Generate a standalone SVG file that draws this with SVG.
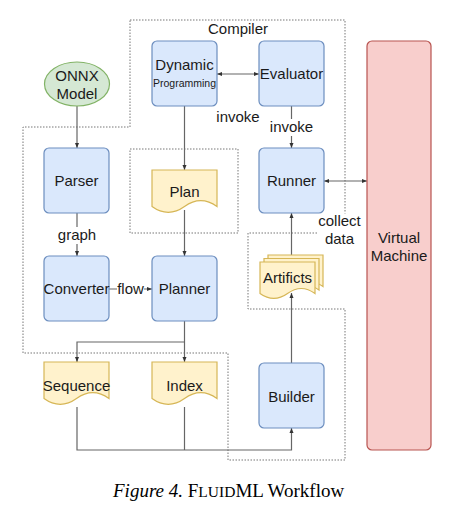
<svg xmlns="http://www.w3.org/2000/svg" width="470" height="528" viewBox="0 0 470 528">
<defs>
<style>
text{font-family:"Liberation Sans",Arial,sans-serif;font-size:15px;fill:#1a1a1a;text-anchor:middle}
.blue{fill:#dae8fc;stroke:#6c8ebf;stroke-width:1.2}
.yel{fill:#fff2cc;stroke:#d6b656;stroke-width:1.2}
.grn{fill:#d5e8d4;stroke:#82b366;stroke-width:1.2}
.red{fill:#f8cecc;stroke:#b85450;stroke-width:1.2}
.dot{fill:none;stroke:#777;stroke-width:1;stroke-dasharray:1.5 1.5}
.edge{fill:none;stroke:#666;stroke-width:1.2}
.bg{fill:#fff;stroke:none}
.cap{font-family:"Liberation Serif","Times New Roman",serif;font-size:19px;fill:#000;text-anchor:start}
</style>
<marker id="arr" viewBox="0 0 10 10" refX="10" refY="5" markerWidth="5" markerHeight="5" markerUnits="userSpaceOnUse" orient="auto-start-reverse">
<path d="M0,1 L10,5 L0,9 z" fill="#333"/>
</marker>
</defs>
<rect width="470" height="528" fill="#fff"/>

<g id="compiler-region">
<path class="dot" d="M130,20 H345 V233 H248 V309 H345 V460 H228 V353 H23 V127 H130 Z"/>
<rect class="dot" x="130" y="149" width="108" height="84"/>
<text x="238" y="33.5">Compiler</text>
</g>

<g id="connectors">
<line class="edge" x1="77" y1="106" x2="77" y2="148" marker-end="url(#arr)"/>
<line class="edge" x1="77" y1="213" x2="77" y2="256" marker-end="url(#arr)"/>
<line class="edge" x1="109" y1="289" x2="152" y2="289" marker-end="url(#arr)"/>
<line class="edge" x1="184.5" y1="106" x2="184.5" y2="170" marker-end="url(#arr)"/>
<line class="edge" x1="184.5" y1="210" x2="184.5" y2="256" marker-end="url(#arr)"/>
<line class="edge" x1="217" y1="74" x2="259" y2="74" marker-start="url(#arr)" marker-end="url(#arr)"/>
<line class="edge" x1="291.5" y1="106" x2="291.5" y2="148" marker-end="url(#arr)"/>
<line class="edge" x1="324" y1="181" x2="367" y2="181" marker-start="url(#arr)" marker-end="url(#arr)"/>
<line class="edge" x1="291.5" y1="255" x2="291.5" y2="213" marker-end="url(#arr)"/>
<line class="edge" x1="291.5" y1="363" x2="291.5" y2="293" marker-end="url(#arr)"/>
<line class="edge" x1="184.5" y1="321" x2="184.5" y2="362" marker-end="url(#arr)"/>
<path class="edge" d="M184.5,342 H77 V362" marker-end="url(#arr)"/>
<path class="edge" d="M77,407 V450 H291.5 V428" marker-end="url(#arr)"/>
<line class="edge" x1="184.5" y1="407" x2="184.5" y2="450"/>
<rect class="bg" x="57" y="227" width="40" height="17"/>
<text x="77" y="239.5">graph</text>
<rect class="bg" x="117" y="281" width="27" height="16"/>
<text x="130.5" y="294">flow</text>
<text x="238" y="122">invoke</text>
<rect class="bg" x="270" y="119" width="44" height="17"/>
<text x="291.5" y="132">invoke</text>
<rect class="bg" x="317" y="213.5" width="45" height="36"/>
<text x="339.5" y="226">collect</text>
<text x="339.5" y="244">data</text>
</g>

<g id="onnx-model">
<ellipse class="grn" cx="77" cy="84" rx="32.5" ry="22"/>
<text x="77" y="80.5">ONNX</text>
<text x="77" y="98.5">Model</text>
</g>

<g id="parser">
<rect class="blue" x="44" y="148" width="65" height="65" rx="5"/>
<text x="76.5" y="186">Parser</text>
</g>

<g id="converter">
<rect class="blue" x="44" y="256" width="65" height="65" rx="5"/>
<text x="76.5" y="294">Converter</text>
</g>

<g id="dynamic-programming">
<rect class="blue" x="152" y="41" width="65" height="65" rx="5"/>
<text x="184.5" y="69.5">Dynamic</text>
<text x="184.5" y="87" style="font-size:10.5px">Programming</text>
</g>

<g id="evaluator">
<rect class="blue" x="259" y="41" width="65" height="65" rx="5"/>
<text x="291.5" y="78.5">Evaluator</text>
</g>

<g id="plan">
<path class="yel" d="M152,170 H217 V206.5 Q200.75,194.9 184.5,206.5 Q168.25,218.2 152,206.5 Z"/>
<text x="184.5" y="197">Plan</text>
</g>

<g id="planner">
<rect class="blue" x="152" y="256" width="65" height="65" rx="5"/>
<text x="184.5" y="294">Planner</text>
</g>

<g id="runner">
<rect class="blue" x="259" y="148" width="65" height="65" rx="5"/>
<text x="291.5" y="186">Runner</text>
</g>

<g id="artifacts">
<path class="yel" d="M268,255 H323 V286.5 Q309.25,276.5 295.5,286.5 Q281.75,296.4 268,286.5 Z"/>
<path class="yel" d="M264,258.5 H319 V290 Q305.25,280 291.5,290 Q277.75,299.9 264,290 Z"/>
<path class="yel" d="M260,262 H315 V293.5 Q301.25,283.5 287.5,293.5 Q273.75,303.4 260,293.5 Z"/>
<text x="287.5" y="283">Artificts</text>
</g>

<g id="sequence">
<path class="yel" d="M44,362 H109 V398.5 Q92.75,386.9 76.5,398.5 Q60.25,410.2 44,398.5 Z"/>
<text x="76.5" y="391">Sequence</text>
</g>

<g id="index">
<path class="yel" d="M152,362 H217 V398.5 Q200.75,386.9 184.5,398.5 Q168.25,410.2 152,398.5 Z"/>
<text x="184.5" y="391">Index</text>
</g>

<g id="builder">
<rect class="blue" x="259" y="363" width="65" height="65" rx="5"/>
<text x="291.5" y="402">Builder</text>
</g>

<g id="virtual-machine">
<rect class="red" x="367" y="41" width="64" height="409" rx="5"/>
<text x="399" y="242.5">Virtual</text>
<text x="399" y="260.5">Machine</text>
</g>

<g id="caption">
<text class="cap" x="113" y="497"><tspan font-style="italic">Figure 4.</tspan> F<tspan font-size="15.5px">LUID</tspan>ML Workflow</text>
</g>
</svg>
